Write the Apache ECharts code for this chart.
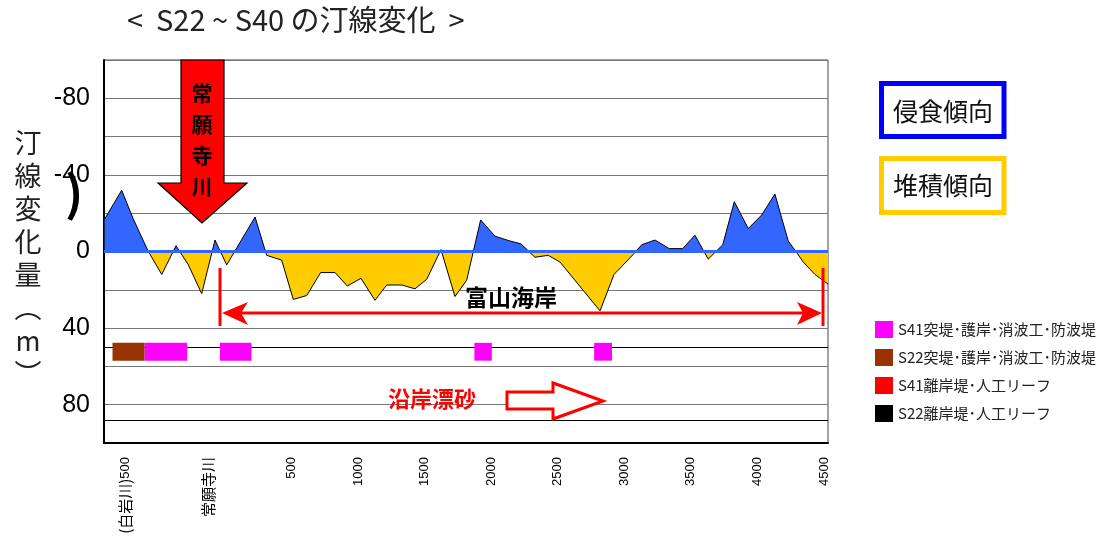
<!DOCTYPE html>
<html>
<head>
<meta charset="utf-8">
<title>S22~S40 の汀線変化</title>
<script src="https://cdn.jsdelivr.net/npm/echarts@6.0.0/dist/echarts.min.js"></script>
<style>
  html, body { margin: 0; padding: 0; background: #fff; }
  #chart { width: 1112px; height: 540px; }
</style>
</head>
<body>
<div id="chart"></div>
<script>
// 測点位置 (m) と汀線変化量 (m)：正が堆積、負が侵食
const distance = [-905, -777, -690, -577, -476, -369, -276, -176, -76, 12, 225, 312, 425, 512, 613, 718, 826, 918, 1021, 1126, 1214, 1327, 1427, 1515, 1622, 1727, 1815, 1920, 2028, 2140, 2223, 2328, 2428, 2516, 2817, 2922, 3067, 3130, 3230, 3337, 3438, 3530, 3630, 3739, 3826, 3931, 4031, 4131, 4231, 4294, 4344, 4432, 4530]
const shoreChange = [-17, -32, -17, 0, 12, -3, 7, 22, -6, 7, -18, 2, 4.5, 25, 23, 11, 11, 18, 14, 25.5, 17.5, 17.5, 19.5, 14.5, -1, 23.5, 15, -16.5, -8, -5.5, -4, 3, 2, 5.5, 31, 12, 1.5, -3.5, -6, -1.5, -1.5, -8.5, 4, -3.5, -26, -12, -19, -30, -5.5, 0.5, 5.5, 12, 17]

// 構造物の区間 [始点, 終点] (m)
const s41Groin = [[-606, -285], [-39, 198], [1873, 2004], [2773, 2907]]
const s22Groin = [[-846, -606]]
const s41Breakwater = []
const s22Breakwater = []

// x 軸の目盛ラベル
const tickValues = [-750, -130, 500, 1000, 1500, 2000, 2500, 3000, 3500, 4000, 4500]
const tickNames = ['{c|(白岩川)}500', '{c|常願寺川}', '500', '1000', '1500', '2000', '2500', '3000', '3500', '4000', '4500']

const legendNames = ['S41突堤･護岸･消波工･防波堤', 'S22突堤･護岸･消波工･防波堤', 'S41離岸堤･人工リーフ', 'S22離岸堤･人工リーフ']

const BLOCK_TOP = 47.7
const BLOCK_BOTTOM = 57
const CJK = "'Noto Sans CJK JP', sans-serif"
const LATIN = "'Liberation Sans', 'Noto Sans CJK JP', sans-serif"

const chart = echarts.init(document.getElementById('chart'))

const blockItem = (params, api) => {
  const p0 = api.coord([api.value(0), BLOCK_TOP])
  const p1 = api.coord([api.value(1), BLOCK_BOTTOM])
  return {
    type: 'rect',
    shape: {x: p0[0], y: p0[1], width: p1[0] - p0[0], height: p1[1] - p0[1]},
    style: api.style()
  }
}

const blockSeries = (name, data, color) => ({
  name,
  type: 'custom',
  renderItem: blockItem,
  encode: {x: [0, 1]},
  data,
  itemStyle: {color},
  z: 5,
  silent: true
})

const option = {
  animation: false,
  textStyle: {fontFamily: LATIN},
  grid: {
    left: 104, top: 60, width: 724, height: 383,
    show: true, borderColor: '#444', borderWidth: 1, backgroundColor: '#fff'
  },
  legend: {
    data: legendNames,
    orient: 'vertical',
    left: 870,
    top: 316,
    icon: 'rect',
    itemWidth: 18,
    itemHeight: 17,
    itemGap: 11,
    selectedMode: false,
    textStyle: {fontSize: 15, color: '#222', fontFamily: CJK}
  },
  visualMap: {
    show: false,
    type: 'piecewise',
    seriesIndex: 0,
    dimension: 1,
    pieces: [
      {gte: -100, lt: 0, color: '#3366FF'},
      {gte: 0, lte: 100, color: '#FFCC00'}
    ]
  },
  xAxis: {
    type: 'value',
    min: -910,
    max: 4530,
    axisLine: {onZero: false, lineStyle: {color: '#000', width: 2}},
    axisTick: {show: false},
    splitLine: {show: false},
    axisLabel: {
      customValues: tickValues,
      rotate: 90,
      margin: 14,
      fontSize: 13,
      color: '#000',
      fontFamily: LATIN,
      formatter: v => tickNames[tickValues.indexOf(v)] ?? '',
      rich: {c: {fontSize: 15, color: '#000', fontFamily: CJK}}
    }
  },
  yAxis: {
    type: 'value',
    inverse: true,
    min: -100,
    max: 100,
    interval: 20,
    axisLine: {show: true, onZero: false, lineStyle: {color: '#000', width: 2}},
    axisTick: {show: false},
    splitLine: {lineStyle: {color: '#777', width: 1}},
    axisLabel: {
      fontSize: 25,
      color: '#000',
      margin: 14,
      formatter: v => (v % 40 === 0 && Math.abs(v) < 100) ? String(v) : ''
    }
  },
  series: [
    {
      name: '汀線変化',
      type: 'line',
      data: distance.map((d, i) => [d, shoreChange[i]]),
      symbol: 'none',
      lineStyle: {color: '#000', width: 1},
      areaStyle: {opacity: 1, origin: 'auto'},
      z: 2,
      silent: true,
      markLine: {
        silent: true,
        symbol: 'none',
        label: {show: false},
        data: [
          {yAxis: 50, lineStyle: {color: '#000', width: 1, type: 'solid'}},
          {yAxis: 88, lineStyle: {color: '#000', width: 1, type: 'solid'}},
          {yAxis: 0, lineStyle: {color: '#3366FF', width: 3, type: 'solid'}}
        ]
      }
    },
    blockSeries(legendNames[0], s41Groin, '#FF00FF'),
    blockSeries(legendNames[1], s22Groin, '#993300'),
    blockSeries(legendNames[2], s41Breakwater, '#FF0000'),
    blockSeries(legendNames[3], s22Breakwater, '#000000')
  ],
  graphic: [
    // タイトル
    {
      type: 'text', left: 127, top: 5,
      style: {text: '<  S22 ~ S40 の汀線変化  >', fontSize: 29, fill: '#222', fontFamily: CJK}
    },
    // 縦書きの軸名
    {
      type: 'text', x: 28, y: 126,
      style: {
        text: '汀\n線\n変\n化\n量\n︵\nm\n︶',
        fontSize: 27, lineHeight: 33, fill: '#222', fontFamily: CJK,
        align: 'center', verticalAlign: 'top'
      }
    },
    {
      type: 'text', x: 74, y: 193, z: 10,
      style: {text: ')', fontSize: 48, fontWeight: 'bold', fill: '#000', fontFamily: CJK, align: 'center', verticalAlign: 'middle'}
    },
    // 常願寺川の矢印
    {
      type: 'polygon', z: 20,
      shape: {points: [[181, 60], [224, 60], [224, 183], [247, 183], [202, 223], [158, 183], [181, 183]]},
      style: {fill: '#FF0000', stroke: '#000', lineWidth: 1.2}
    },
    {
      type: 'text', x: 202, y: 78, z: 21,
      style: {
        text: '常\n願\n寺\n川', fontSize: 21, fontWeight: 'bold', lineHeight: 31,
        fill: '#000', fontFamily: CJK, align: 'center', verticalAlign: 'top'
      }
    },
    // 富山海岸の範囲
    {
      type: 'line', z: 20,
      shape: {x1: 228, y1: 313, x2: 816, y2: 313},
      style: {stroke: '#FF0000', lineWidth: 3}
    },
    {
      type: 'polygon', z: 20,
      shape: {points: [[222, 313], [248, 302], [241, 313], [248, 325]]},
      style: {fill: '#FF0000'}
    },
    {
      type: 'polygon', z: 20,
      shape: {points: [[822, 313], [797, 302], [803, 313], [797, 325]]},
      style: {fill: '#FF0000'}
    },
    {
      type: 'line', z: 20,
      shape: {x1: 220, y1: 268, x2: 220, y2: 326},
      style: {stroke: '#FF0000', lineWidth: 3}
    },
    {
      type: 'line', z: 20,
      shape: {x1: 823, y1: 268, x2: 823, y2: 326},
      style: {stroke: '#FF0000', lineWidth: 3}
    },
    {
      type: 'text', x: 511, y: 297, z: 21,
      style: {
        text: '富山海岸', fontSize: 23, fontWeight: 'bold', fill: '#000',
        fontFamily: CJK, align: 'center', verticalAlign: 'middle'
      }
    },
    // 沿岸漂砂
    {
      type: 'text', x: 432, y: 399, z: 21,
      style: {
        text: '沿岸漂砂', fontSize: 22, fontWeight: 'bold', fill: '#FF0000',
        fontFamily: CJK, align: 'center', verticalAlign: 'middle'
      }
    },
    {
      type: 'polygon', z: 20,
      shape: {points: [[507, 392], [553, 392], [553, 383], [603, 401], [553, 419], [553, 409], [507, 409]]},
      style: {fill: '#fff', stroke: '#FF0000', lineWidth: 3}
    },
    // 侵食傾向・堆積傾向
    {
      type: 'rect', z: 20,
      shape: {x: 881.5, y: 83.5, width: 122.5, height: 53},
      style: {fill: '#fff', stroke: '#0000FF', lineWidth: 5}
    },
    {
      type: 'text', x: 943, y: 111, z: 21,
      style: {text: '侵食傾向', fontSize: 25, fill: '#111', fontFamily: CJK, align: 'center', verticalAlign: 'middle'}
    },
    {
      type: 'rect', z: 20,
      shape: {x: 881.5, y: 158.5, width: 122.5, height: 54},
      style: {fill: '#fff', stroke: '#FFCC00', lineWidth: 5}
    },
    {
      type: 'text', x: 943, y: 185, z: 21,
      style: {text: '堆積傾向', fontSize: 25, fill: '#111', fontFamily: CJK, align: 'center', verticalAlign: 'middle'}
    }
  ]
}

chart.setOption(option)
window.addEventListener('resize', () => chart.resize())
</script>
</body>
</html>
